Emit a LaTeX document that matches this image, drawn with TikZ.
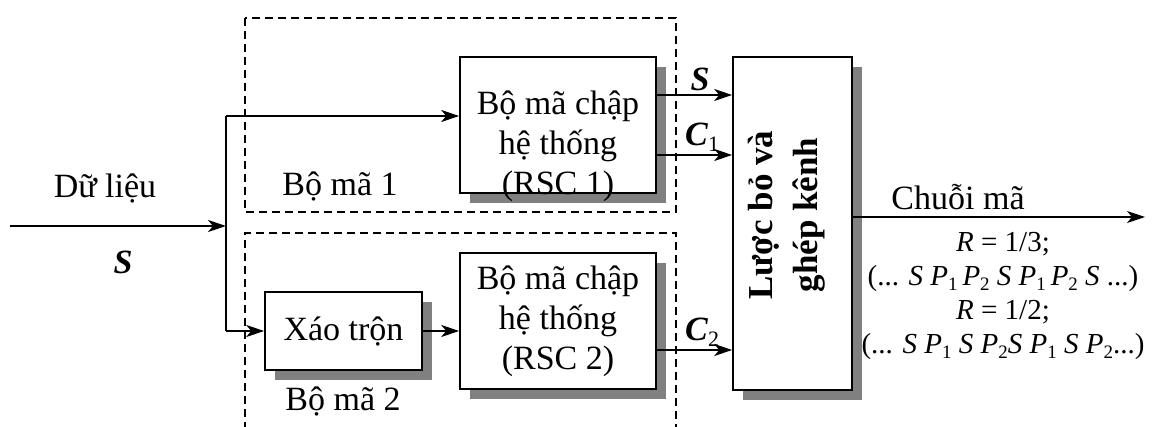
\documentclass[tikz,border=0pt]{standalone}
\usepackage{fontspec}
\setmainfont{Liberation Serif}
\usetikzlibrary{arrows.meta,shadows}
\newcommand{\sub}[1]{\raisebox{-6pt}{\fontsize{22}{22}\selectfont #1}}
\newcommand{\ssub}[1]{\raisebox{-5pt}{\fontsize{19}{19}\selectfont #1}}
\begin{document}
\begin{tikzpicture}[x=1pt,y=-1pt,
  box/.style={draw,line width=1.6pt,fill=white,inner sep=0pt,
    drop shadow={shadow xshift=10pt,shadow yshift=-10pt,fill=black!50,opacity=1}},
  arr/.style={line width=1.6pt,-{Stealth[length=18pt,width=12pt,inset=5pt]}},
  ln/.style={line width=1.6pt},
  grp/.style={line width=1.3pt,dash pattern=on 8pt off 5pt},
  big/.style={font=\fontsize{34}{40}\selectfont},
  small/.style={font=\fontsize{29}{34}\selectfont}]
\useasboundingbox (0,0) rectangle (1152,427);

% groups
\draw[grp] (245,18) rectangle (676,212);
\draw[grp] (245,430) -- (245,233) -- (676,233) -- (676,430);

% blocks
\node[box,minimum width=196pt,minimum height=136pt] (rsc1) at (558,125) {};
\node[big,align=center] (rsc1t) at (558,146) {Bộ mã chập\\hệ thống\\(RSC 1)};
\node[box,minimum width=196pt,minimum height=136pt,big,align=center] (rsc2) at (558,321) {Bộ mã chập\\hệ thống\\(RSC 2)};
\node[box,minimum width=157pt,minimum height=78pt,big] (xao) at (343.5,331) {Xáo trộn};
\node[box,minimum width=119pt,minimum height=333pt] (mux) at (792.5,223.5) {};
\node[rotate=90,align=center,font=\bfseries\fontsize{35}{45}\selectfont] (muxt) at (787,215) {Lược bỏ và\\ghép kênh};

% labels
\node[big] (lbin) at (105,188) {Dữ liệu};
\node[big] (lbs) at (123,262) {\textbf{\textit{S}}};
\node[big] (lbg1) at (340,186) {Bộ mã 1};
\node[big] (lbg2) at (343,401) {Bộ mã 2};
\node[big] (lS) at (700,79) {\textbf{\textit{S}}};
\node[big] (lC1) at (702,137) {\textbf{\textit{C}}\sub{1}};
\node[big] (lC2) at (702,332) {\textbf{\textit{C}}\sub{2}};
\node[big] (lout) at (958,197) {Chuỗi mã};
\node[small,align=center] (rates) at (1003,296) {\textit{R} = 1/3;\\(... \textit{S P}\ssub{1}\,\textit{P}\ssub{2} \textit{S P}\ssub{1}\,\textit{P}\ssub{2} \textit{S} ...)\\\textit{R} = 1/2;\\(... \textit{S P}\ssub{1} \textit{S P}\ssub{2}\textit{S P}\ssub{1} \textit{S P}\ssub{2}...)};

% connectors
\coordinate (in) at (10,226);
\coordinate (j) at (226,226);
\coordinate (jt) at (226,116);
\coordinate (jb) at (226,331);
\coordinate (yS) at (0,95);
\coordinate (yC1) at (0,155);
\coordinate (yC2) at (0,350);
\coordinate (out) at (1145,217);
\draw[arr] (in) -- (j);
\draw[ln] (jt) -- (jb);
\draw[arr] (jt) -- (rsc1.west |- jt);
\draw[arr] (jb) -- (xao.west);
\draw[arr] (xao.east) -- (rsc2.west |- xao.east);
\draw[arr] (rsc1.east |- yS) -- (mux.west |- yS);
\draw[arr] (rsc1.east |- yC1) -- (mux.west |- yC1);
\draw[arr] (rsc2.east |- yC2) -- (mux.west |- yC2);
\draw[arr] (mux.east |- out) -- (out);
\end{tikzpicture}
\end{document}
